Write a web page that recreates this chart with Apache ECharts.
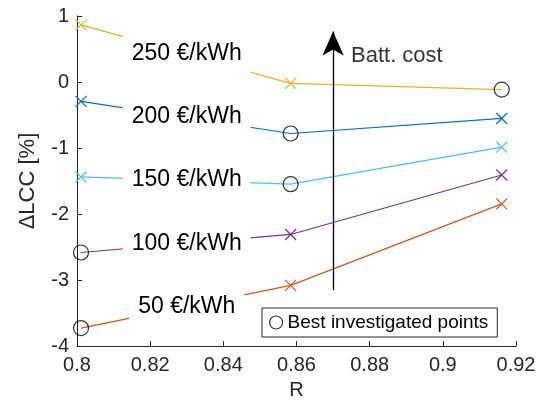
<!DOCTYPE html>
<html>
<head>
<meta charset="utf-8">
<script src="https://cdn.jsdelivr.net/npm/echarts@6/dist/echarts.min.js"></script>
<style>html,body{margin:0;padding:0;background:#fff;}#c{width:546px;height:405px;}</style>
</head>
<body>
<div id="c"></div>
<script>
// ---- data ----
const xValues = [0.8011, 0.8584, 0.9161];
const seriesNames = ['250 €/kWh', '200 €/kWh', '150 €/kWh', '100 €/kWh', '50 €/kWh'];
const v250 = [0.866, -0.02, -0.115];
const v200 = [-0.294, -0.78, -0.552];
const v150 = [-1.438, -1.547, -0.985];
const v100 = [-2.582, -2.309, -1.408];
const v50 = [-3.727, -3.08, -1.846];
const bestIndex = [2, 1, 1, 0, 0];
const labelX = [0.83, 0.83, 0.83, 0.83, 0.83];
const labelY = [0.425, -0.528, -1.478, -2.443, -3.399];
const arrowFrom = [0.87, -3.154];
const arrowTo = [0.87, 0.766];
const arrowText = 'Batt. cost';
const arrowTextPos = [0.8749, 0.388];
const legendName = 'Best investigated points';
const xTicks = [0.8, 0.82, 0.84, 0.86, 0.88, 0.9, 0.92];
const yTicks = [-4, -3, -2, -1, 0, 1];

const allValues = [v250, v200, v150, v100, v50];
const colors = ['#EDB120', '#0072BD', '#4DBEEE', '#7E2F8E', '#D95319'];
const xPath = 'path://M0,0L10,10M10,0L0,10';
const axisColor = '#262626';
const fontFam = 'Liberation Sans, Arial, sans-serif';

const series = [];
allValues.forEach((vals, i) => {
  series.push({
    name: seriesNames[i],
    type: 'line',
    z: 2,
    silent: true,
    animation: false,
    lineStyle: { color: colors[i], width: 1.2 },
    itemStyle: { color: 'transparent', borderColor: colors[i], borderWidth: 1.2 },
    symbol: xPath,
    symbolSize: 11,
    data: vals.map((v, j) => ({
      value: [xValues[j], v],
      symbol: j === bestIndex[i] ? 'none' : xPath
    }))
  });
});

// best points
series.push({
  name: legendName,
  type: 'scatter',
  z: 3,
  silent: true,
  animation: false,
  symbol: 'circle',
  symbolSize: 15,
  itemStyle: { color: 'transparent', borderColor: '#000', borderWidth: 1.2 },
  data: allValues.map((vals, i) => [xValues[bestIndex[i]], vals[bestIndex[i]]])
});

// label annotations (white-background text boxes)
series.push({
  type: 'custom',
  z: 5,
  silent: true,
  animation: false,
  renderItem: function (params, api) {
    const pt = api.coord([api.value(0), api.value(1)]);
    return {
      type: 'text',
      x: pt[0],
      y: pt[1],
      style: {
        text: seriesNames[params.dataIndex],
        align: 'center',
        verticalAlign: 'middle',
        fontSize: 23,
        fontFamily: fontFam,
        fill: '#000',
        backgroundColor: '#fff',
        padding: [6, 9],
        lineHeight: 26
      }
    };
  },
  data: labelX.map((x, i) => [x, labelY[i]])
});

// arrow
series.push({
  type: 'line',
  z: 4,
  silent: true,
  animation: false,
  data: [],
  markLine: {
    silent: true,
    animation: false,
    symbol: ['none', 'arrow'],
    symbolSize: [16, 24],
    label: { show: false },
    lineStyle: { color: '#000', width: 1.3, type: 'solid' },
    data: [[{ coord: arrowFrom }, { coord: arrowTo }]]
  }
});
series.push({
  type: 'scatter',
  z: 5,
  silent: true,
  animation: false,
  symbolSize: 0,
  label: {
    show: true,
    position: 'right',
    distance: 0,
    formatter: arrowText,
    color: '#000',
    fontSize: 22,
    fontFamily: fontFam
  },
  data: [arrowTextPos]
});

const fmt = v => String(parseFloat(v.toFixed(2)));

const option = {
  animation: false,
  backgroundColor: '#fff',
  textStyle: { fontFamily: fontFam },
  grid: { left: 77, right: 30, top: 16, bottom: 54 },
  legend: {
    left: 262,
    top: 308,
    orient: 'vertical',
    backgroundColor: '#fff',
    borderColor: axisColor,
    borderWidth: 1,
    borderRadius: 0,
    padding: [5, 9, 5, 7],
    itemWidth: 13,
    itemHeight: 13,
    itemGap: 0,
    selectedMode: false,
    textStyle: { fontSize: 19, color: '#000', fontFamily: fontFam },
    data: [{ name: legendName, icon: 'circle', itemStyle: { color: 'transparent', borderColor: '#000', borderWidth: 1.2 } }]
  },
  xAxis: {
    type: 'value',
    min: xTicks[0],
    max: xTicks[xTicks.length - 1],
    interval: 0.02,
    name: 'R',
    nameLocation: 'middle',
    nameGap: 31,
    nameTextStyle: { fontSize: 20, color: axisColor },
    axisLine: { onZero: false, lineStyle: { color: axisColor, width: 1 } },
    axisTick: { inside: true, length: 5, lineStyle: { color: axisColor } },
    axisLabel: { fontSize: 20, color: axisColor, margin: 9, formatter: fmt, showMaxLabel: true, showMinLabel: true },
    splitLine: { show: false }
  },
  yAxis: {
    type: 'value',
    min: yTicks[0],
    max: yTicks[yTicks.length - 1],
    interval: 1,
    name: 'ΔLCC [%]',
    nameLocation: 'middle',
    nameGap: 38,
    nameTextStyle: { fontSize: 22, color: axisColor },
    axisLine: { show: true, onZero: false, lineStyle: { color: axisColor, width: 1 } },
    axisTick: { show: true, inside: true, length: 5, lineStyle: { color: axisColor } },
    axisLabel: { fontSize: 20, color: axisColor, margin: 8, formatter: v => String(v) },
    splitLine: { show: false }
  },
  series: series
};

const chart = echarts.init(document.getElementById('c'), null, { renderer: 'canvas' });
chart.setOption(option);
</script>
</body>
</html>
